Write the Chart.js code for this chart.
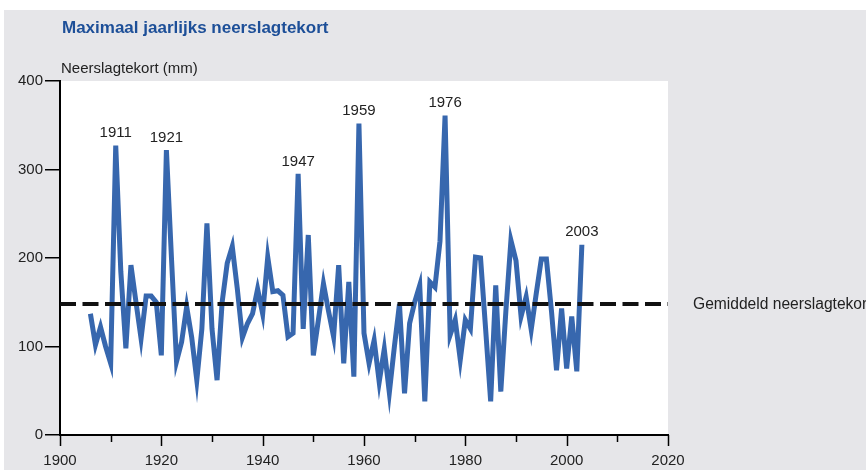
<!DOCTYPE html>
<html>
<head>
<meta charset="utf-8">
<script src="https://cdn.jsdelivr.net/npm/chart.js@4.4.1/dist/chart.umd.min.js"></script>
<style>
  body { margin: 0; background: #fff; }
  #wrap { position: relative; width: 866px; height: 470px; overflow: hidden; }
  #chart { position: absolute; left: 0; top: 0; }
  #title { position: absolute; left: 62px; top: 18px; font: bold 17px 'Liberation Sans', Arial, sans-serif; color: #1d4f98; white-space: nowrap; }
  #unit { position: absolute; left: 61px; top: 59px; font: 15px 'Liberation Sans', Arial, sans-serif; color: #222; white-space: nowrap; }
</style>
</head>
<body>
<div id="wrap">
  <canvas id="chart" width="866" height="470"></canvas>
  <div id="title">Maximaal jaarlijks neerslagtekort</div>
  <div id="unit">Neerslagtekort (mm)</div>
</div>
<script>
// jaren en maximaal neerslagtekort (mm)
const years = [
  1906, 1907, 1908, 1909, 1910, 1911, 1912, 1913, 1914, 1915,
  1916, 1917, 1918, 1919, 1920, 1921, 1922, 1923, 1924, 1925,
  1926, 1927, 1928, 1929, 1930, 1931, 1932, 1933, 1934, 1935,
  1936, 1937, 1938, 1939, 1940, 1941, 1942, 1943, 1944, 1945,
  1946, 1947, 1948, 1949, 1950, 1951, 1952, 1953, 1954, 1955,
  1956, 1957, 1958, 1959, 1960, 1961, 1962, 1963, 1964, 1965,
  1966, 1967, 1968, 1969, 1970, 1971, 1972, 1973, 1974, 1975,
  1976, 1977, 1978, 1979, 1980, 1981, 1982, 1983, 1984, 1985,
  1986, 1987, 1988, 1989, 1990, 1991, 1992, 1993, 1994, 1995,
  1996, 1997, 1998, 1999, 2000, 2001, 2002, 2003
];
const deficit = [
  137, 102, 122, 100, 81, 327, 185, 98, 192, 150,
  109, 157, 157, 150, 90, 322, 200, 83, 105, 145,
  110, 62, 120, 239, 120, 62, 150, 194, 213, 165,
  110, 126, 137, 165, 137, 201, 162, 163, 158, 111,
  115, 295, 120, 226, 90, 130, 171, 140, 111, 192,
  81, 173, 66, 352, 115, 81, 107, 60, 97, 48,
  100, 148, 47, 126, 150, 169, 38, 173, 167, 219,
  361, 113, 130, 85, 130, 120, 201, 200, 120, 38,
  169, 49, 140, 220, 197, 134, 156, 119, 160, 199,
  199, 140, 73, 143, 75, 134, 72, 215
];
const meanDeficit = 148;
const meanLabel = 'Gemiddeld neerslagtekort';
const peakYears = [1911, 1921, 1947, 1959, 1976, 2003];
const yTicks = [0, 100, 200, 300, 400];

const FONT = "'Liberation Sans', Arial, sans-serif";

// achtergrond: grijs vlak met wit plotgebied
const background = {
  id: 'background',
  beforeDraw(chart) {
    const { ctx, chartArea } = chart;
    ctx.save();
    ctx.fillStyle = '#fff';
    ctx.fillRect(0, 0, chart.width, chart.height);
    ctx.fillStyle = '#e6e6e9';
    ctx.fillRect(4, 10, chart.width - 4, chart.height - 10);
    ctx.fillStyle = '#fff';
    ctx.fillRect(chartArea.left, chartArea.top, chartArea.right - chartArea.left, chartArea.bottom - chartArea.top);
    ctx.restore();
  }
};

// tickstreepjes op de x-as: lang bij elke 20 jaar, kort daartussen
const xTickMarks = {
  id: 'xTickMarks',
  afterDraw(chart) {
    const { ctx, chartArea } = chart;
    const xs = chart.scales.x;
    ctx.save();
    ctx.strokeStyle = '#000';
    ctx.lineWidth = 1.5;
    xs.ticks.forEach(t => {
      const px = Math.round(xs.getPixelForValue(t.value)) + 0.5;
      const len = t.value % 20 === 0 ? 11 : 7;
      ctx.beginPath();
      ctx.moveTo(px, chartArea.bottom);
      ctx.lineTo(px, chartArea.bottom + len);
      ctx.stroke();
    });
    ctx.restore();
  }
};

// jaartallen boven de pieken en label van de gemiddelde lijn
const annotations = {
  id: 'annotations',
  afterDatasetsDraw(chart) {
    const { ctx } = chart;
    const meta = chart.getDatasetMeta(1);
    ctx.save();
    ctx.fillStyle = '#222';
    ctx.font = '15px ' + FONT;
    ctx.textAlign = 'center';
    ctx.textBaseline = 'bottom';
    peakYears.forEach(yr => {
      const pt = meta.data[years.indexOf(yr)];
      ctx.fillText(String(yr), pt.x, pt.y - 5);
    });
    ctx.font = '15.6px ' + FONT;
    ctx.textAlign = 'left';
    ctx.textBaseline = 'middle';
    ctx.fillText(meanLabel, 693, chart.scales.y.getPixelForValue(meanDeficit) + 1);
    ctx.restore();
  }
};

new Chart(document.getElementById('chart'), {
  type: 'line',
  data: {
    datasets: [
      {
        label: meanLabel,
        data: [{ x: 1900, y: meanDeficit }, { x: 2020, y: meanDeficit }],
        borderColor: '#111',
        borderWidth: 4,
        borderDash: [16, 6.5],
        pointRadius: 0,
        order: 0
      },
      {
        label: 'Neerslagtekort',
        data: years.map((yr, i) => ({ x: yr, y: deficit[i] })),
        borderColor: '#3767ae',
        borderWidth: 5,
        borderJoinStyle: 'miter',
        pointRadius: 0,
        tension: 0,
        order: 1
      }
    ]
  },
  options: {
    responsive: false,
    animation: false,
    events: [],
    layout: { padding: { top: 81, right: 198, left: 0, bottom: 0 } },
    plugins: { legend: { display: false }, tooltip: { enabled: false } },
    scales: {
      x: {
        type: 'linear',
        min: 1900,
        max: 2020,
        afterFit: s => { s.height = 35; },
        ticks: {
          stepSize: 10,
          autoSkip: false,
          maxRotation: 0,
          padding: 6,
          color: '#222',
          font: { family: FONT, size: 15 },
          callback: v => (v % 20 === 0 ? String(v) : '')
        },
        grid: { display: false, drawTicks: true, tickLength: 11 },
        border: { display: true, color: '#000', width: 2 }
      },
      y: {
        min: 0,
        max: 400,
        afterFit: s => { s.width = 60; },
        afterBuildTicks: s => { s.ticks = yTicks.map(v => ({ value: v })); },
        ticks: {
          padding: 2,
          color: '#222',
          font: { family: FONT, size: 15 }
        },
        grid: { drawOnChartArea: false, drawTicks: true, tickLength: 15, color: '#000', lineWidth: 1.5 },
        border: { display: true, color: '#000', width: 2 }
      }
    }
  },
  plugins: [background, xTickMarks, annotations]
});
</script>
</body>
</html>
